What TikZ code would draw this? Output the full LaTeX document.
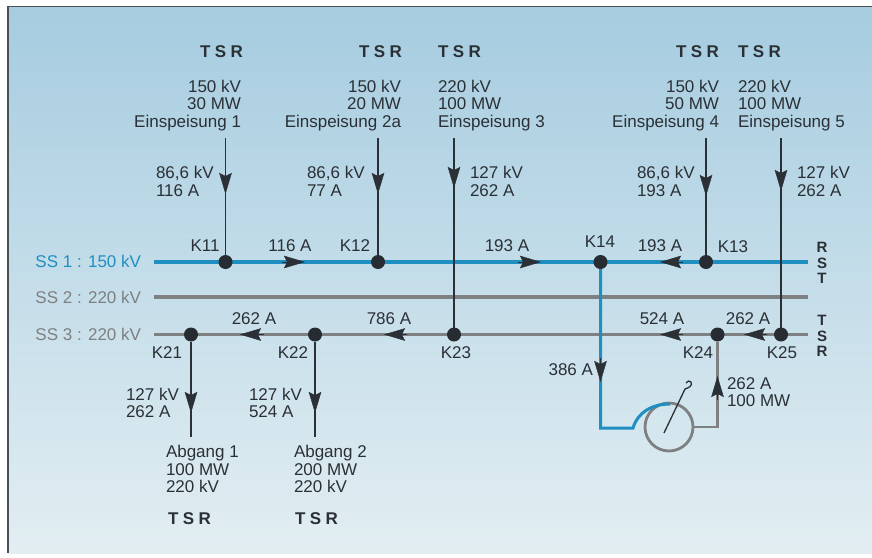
\documentclass[tikz,border=0pt]{standalone}
\usepackage{fontspec}
\setmainfont{Liberation Sans}
\usetikzlibrary{arrows.meta,positioning}
\definecolor{busblue}{HTML}{1F8FC2}
\definecolor{busgray}{HTML}{7E8082}
\definecolor{ink}{HTML}{2A3036}
\definecolor{bgtop}{HTML}{A6CCE0}
\definecolor{bgbot}{HTML}{E2EEF2}
\definecolor{frame}{HTML}{4A5055}
\newcommand{\tsrtext}[1]{T\hspace{4.5pt}S\hspace{4.5pt}R}
\tikzset{
  x=1pt,y=-1pt,
  every node/.style={inner sep=0pt,outer sep=0pt,text=ink,font=\fontsize{17}{17.6}\selectfont},
  lab/.style={align=left,anchor=west},
  labr/.style={align=right,anchor=east},
  labc/.style={align=center,anchor=center},
  tsr/.style={font=\fontsize{17}{18}\selectfont\bfseries},
  phase/.style={align=center,anchor=center,font=\fontsize{15}{15.7}\selectfont\bfseries},
  junction/.style={circle,fill=ink!92!black,minimum size=14pt},
  busb/.style={draw=busblue,line width=3.4pt},
  busg/.style={draw=busgray,line width=3.2pt},
  feed/.style={draw=ink,line width=1.2pt},
  tip/.style={-{Stealth[length=21pt,width=12.5pt,inset=3pt]},ink},
}
\begin{document}
\begin{tikzpicture}
\useasboundingbox (0,0) rectangle (872,557);
\fill[white] (0,0) rectangle (872,557);
\shade[top color=bgtop,bottom color=bgbot] (8,6) rectangle (872,553);
\draw[frame,line width=1.6pt] (8,553) -- (8,6.5) -- (872,6.5);

% free ends
\foreach \n/\x/\y in {
 sb1l/154/262,sb1r/808/262,sb2l/154/297,sb2r/808/297,sb3l/154/334.5,sb3r/808/334.5,
 f1/225.5/138,f2/378/138,f3/454/138,f4/706/138,f5/781/138,
 o1/191/437,o2/315/437,c1/600.5/428,c2/633/428,c3/717.5/427}
 {\coordinate (\n) at (\x,\y);}

% buses
\draw[busb] (sb1l) -- (sb1r);
\draw[busg] (sb2l) -- (sb2r);
\draw[busg] (sb3l) -- (sb3r);

% junctions
\node[junction] (K11) at (225.5,262) {};
\node[junction] (K12) at (378,262) {};
\node[junction] (K14) at (600.5,262) {};
\node[junction] (K13) at (706,262) {};
\node[junction] (K21) at (191,334.5) {};
\node[junction] (K22) at (315,334.5) {};
\node[junction] (K23) at (454,334.5) {};
\node[junction] (K24) at (717.5,334.5) {};
\node[junction] (K25) at (781,334.5) {};

% feeders
\draw[feed] (f1) -- (K11);
\draw[feed] (f2) -- (K12);
\draw[feed] (f3) -- (K23);
\draw[feed] (f4) -- (K13);
\draw[feed] (f5) -- (K25);
\draw[feed] (K21) -- (o1);
\draw[feed] (K22) -- (o2);

% transformer
\node[circle,draw=busgray,line width=2.8pt,minimum size=48pt] (trafo) at (669,427) {};
\draw[busg,line width=2.8pt] (trafo.east) -- (c3) -- (K24);
\draw[busb,line width=3pt,line join=miter] (K14) -- (c1) -- (c2)
  .. controls (638,412) and (652,404) .. (670,404);
\draw[ink,line width=1.3pt] (664,433) -- (685,389)
  .. controls (688,388) and (693,386) .. (691,382) .. controls (690,380) and (687,381) .. (686,383);

% arrow heads on the connectors
\foreach \xa/\ya/\xb/\yb in {
 225.5/170/225.5/194, 378/170/378/194, 454/164/454/188, 706/172/706/196, 781/167/781/191,
 191/389/191/413, 315/389/315/413, 600.5/358/600.5/382}
 {\draw[tip] (\xa,\ya) -- (\xb,\yb);}
\draw[tip] (717.5,400) -- (717.5,376);
\foreach \xa/\xb/\y in {
 282/305/262, 518/541/262, 683/660/262,
 264/240/334.5, 407/384/334.5, 683/660/334.5, 767/744/334.5}
 {\draw[tip] (\xa,\y) -- (\xb,\y);}

% bus names
\node[labr,text=busblue] (n1) at (141,261) {SS 1 : 150 kV};
\node[labr,text=busgray] (n2) at (141,297) {SS 2 : 220 kV};
\node[labr,text=busgray] (n3) at (141,334) {SS 3 : 220 kV};

% TSR tops
\node[tsr,anchor=east] (t1) at (243,52) {\tsrtext{}};
\node[tsr,anchor=east] (t2) at (402,52) {\tsrtext{}};
\node[tsr,anchor=west] (t3) at (438,52) {\tsrtext{}};
\node[tsr,anchor=east] (t4) at (719,52) {\tsrtext{}};
\node[tsr,anchor=west] (t5) at (738,52) {\tsrtext{}};

% sources
\node[labr] (s1) at (241,105.5) {150 kV\\30 MW\\Einspeisung 1};
\node[labr] (s2) at (401,105.5) {150 kV\\20 MW\\Einspeisung 2a};
\node[lab]  (s3) at (438,105.5) {220 kV\\100 MW\\Einspeisung 3};
\node[labr] (s4) at (719,105.5) {150 kV\\50 MW\\Einspeisung 4};
\node[lab]  (s5) at (738,105.5) {220 kV\\100 MW\\Einspeisung 5};

% feeder values
\node[lab] (v1) at (156,181.5) {86,6 kV\\116 A};
\node[lab] (v2) at (307,181.5) {86,6 kV\\77 A};
\node[lab] (v3) at (470,181.5) {127 kV\\262 A};
\node[lab] (v4) at (637,181.5) {86,6 kV\\193 A};
\node[lab] (v5) at (797,181.5) {127 kV\\262 A};

% junction labels
\node[labc] (l11) at (205,246) {K11};
\node[labc] (l12) at (355,246) {K12};
\node[labc] (l14) at (600,242) {K14};
\node[labc] (l13) at (733,247) {K13};
\node[labc] (l21) at (167,353) {K21};
\node[labc] (l22) at (293,353) {K22};
\node[labc] (l23) at (456,353) {K23};
\node[labc] (l24) at (698,353) {K24};
\node[labc] (l25) at (782,353) {K25};

% currents on buses
\node[labc] (a1) at (290,246) {116 A};
\node[labc] (a2) at (507,246) {193 A};
\node[labc] (a3) at (660,246) {193 A};
\node[labc] (a4) at (254,319) {262 A};
\node[labc] (a5) at (389,319) {786 A};
\node[labc] (a6) at (662,319) {524 A};
\node[labc] (a7) at (748,319) {262 A};

% lower labels
\node[labr] (b1) at (593,370) {386 A};
\node[lab] (b2) at (727,392) {262 A\\100 MW};
\node[lab] (o1t) at (126,403) {127 kV\\262 A};
\node[lab] (o2t) at (249,403) {127 kV\\524 A};
\node[lab] (d1) at (166,469) {Abgang 1\\100 MW\\220 kV};
\node[lab] (d2) at (294,469) {Abgang 2\\200 MW\\220 kV};
\node[tsr,anchor=west] (t6) at (168,519) {\tsrtext{}};
\node[tsr,anchor=west] (t7) at (295,519) {\tsrtext{}};

% phase labels
\node[phase] (r1) at (822,263) {R\\S\\T};
\node[phase] (r2) at (822,336) {T\\S\\R};
\end{tikzpicture}
\end{document}
